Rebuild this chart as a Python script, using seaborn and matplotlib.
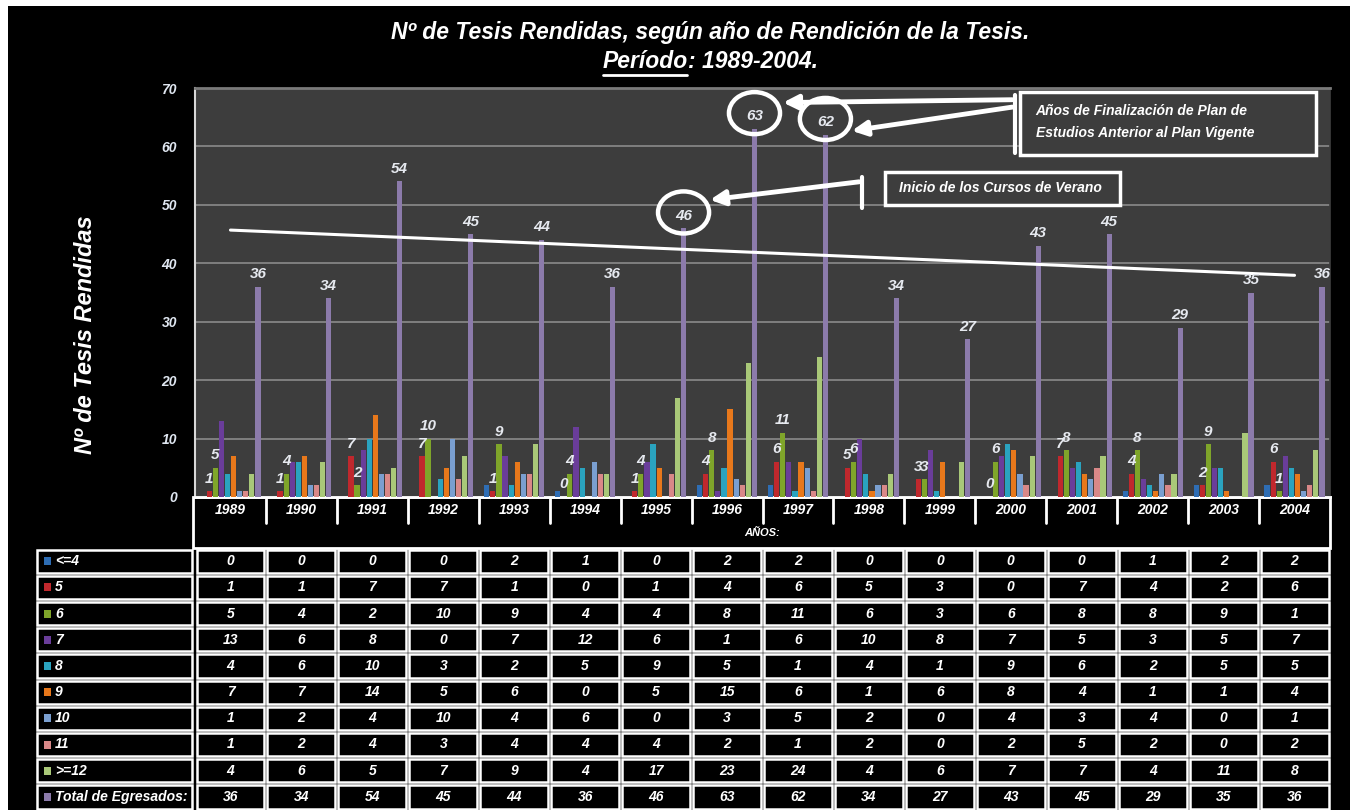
import numpy as np
import pandas as pd
import seaborn as sns
import matplotlib
matplotlib.use("Agg")
import matplotlib.pyplot as plt
from matplotlib.patches import Rectangle, Ellipse

# ---------------- data ----------------
years = ["1989", "1990", "1991", "1992", "1993", "1994", "1995", "1996",
         "1997", "1998", "1999", "2000", "2001", "2002", "2003", "2004"]
series_names = ["<=4", "5", "6", "7", "8", "9", "10", "11", ">=12", "Total de Egresados:"]
s_le4 = [0, 0, 0, 0, 2, 1, 0, 2, 2, 0, 0, 0, 0, 1, 2, 2]
s_5 = [1, 1, 7, 7, 1, 0, 1, 4, 6, 5, 3, 0, 7, 4, 2, 6]
s_6 = [5, 4, 2, 10, 9, 4, 4, 8, 11, 6, 3, 6, 8, 8, 9, 1]
s_7 = [13, 6, 8, 0, 7, 12, 6, 1, 6, 10, 8, 7, 5, 3, 5, 7]
s_8 = [4, 6, 10, 3, 2, 5, 9, 5, 1, 4, 1, 9, 6, 2, 5, 5]
s_9 = [7, 7, 14, 5, 6, 0, 5, 15, 6, 1, 6, 8, 4, 1, 1, 4]
s_10 = [1, 2, 4, 10, 4, 6, 0, 3, 5, 2, 0, 4, 3, 4, 0, 1]
s_11 = [1, 2, 4, 3, 4, 4, 4, 2, 1, 2, 0, 2, 5, 2, 0, 2]
s_ge12 = [4, 6, 5, 7, 9, 4, 17, 23, 24, 4, 6, 7, 7, 4, 11, 8]
s_total = [36, 34, 54, 45, 44, 36, 46, 63, 62, 34, 27, 43, 45, 29, 35, 36]
series_values = [s_le4, s_5, s_6, s_7, s_8, s_9, s_10, s_11, s_ge12, s_total]

colors = ["#2e6db4", "#c0282d", "#7fa52a", "#6a3d9a", "#2aa3bf",
          "#e8781b", "#7a9fd0", "#d98888", "#a9c878", "#8c7bab"]

title1 = "Nº de Tesis Rendidas, según año de Rendición de la Tesis."
title2a = "Período"
title2b = ": 1989-2004."
ylabel = "Nº de Tesis Rendidas"
xaxis_label = "AÑOS:"
note1 = "Años de Finalización de Plan de\nEstudios Anterior al Plan Vigente"
note2 = "Inicio de los Cursos de Verano"

rows = []
for name, vals in zip(series_names, series_values):
    for y, v in zip(years, vals):
        rows.append({"year": y, "series": name, "value": v})
df = pd.DataFrame(rows)

# ---------------- style ----------------
sns.set_theme(style="dark")
FONT = ["Liberation Sans Narrow", "Liberation Sans", "DejaVu Sans"]
plt.rcParams["font.family"] = FONT
plt.rcParams["font.weight"] = "bold"
plt.rcParams["font.style"] = "italic"

W, H = 1356, 810
fig = plt.figure(figsize=(W / 100, H / 100), dpi=100, facecolor="white")

# overlay axes in pixel coordinates (for background, titles, table)
ov = fig.add_axes([0, 0, 1, 1], zorder=0)
ov.set_xlim(0, W)
ov.set_ylim(H, 0)
ov.axis("off")
ov.add_patch(Rectangle((8, 6), 1342, 804, facecolor="black", edgecolor="none"))

# main chart axes
PX_L, PX_R, PX_T, PX_B = 195, 1330, 88, 497
ax = fig.add_axes([PX_L / W, (H - PX_B) / H, (PX_R - PX_L) / W, (PX_B - PX_T) / H], zorder=2)
ax.set_facecolor("#3d3d3d")

sns.barplot(data=df, x="year", y="value", hue="series", hue_order=series_names,
            order=years, palette=colors, width=0.86, gap=0.15, saturation=1,
            legend=False, ax=ax, edgecolor="none", zorder=3)

ax.set_ylim(0, 70)
ax.set_xlim(-0.5, len(years) - 0.5)
ax.set_yticks(range(0, 71, 10))
ax.yaxis.grid(True, color="#8a8a8a", lw=1.2, zorder=0)
ax.xaxis.grid(False)
ax.set_axisbelow(True)
ax.tick_params(axis="y", colors="#dfe6f0", labelsize=10, length=0, pad=13)
ax.tick_params(axis="x", length=0, labelbottom=False)
ax.set_xlabel("")
ax.set_ylabel("")
for lab in ax.get_yticklabels():
    lab.set_fontweight("bold")
    lab.set_fontstyle("italic")
ax.spines["left"].set_color("#d8d8d8")
ax.spines["left"].set_linewidth(1.5)
ax.spines["top"].set_color("#7a7a7a")
ax.spines["top"].set_linewidth(2)
ax.spines["right"].set_color("#3d3d3d")
ax.spines["bottom"].set_color("white")
ax.spines["bottom"].set_linewidth(2)

# data labels on series "5", "6" and the total
label_color = "#e6e9ef"
for idx in (1, 2, 9):
    cont = ax.containers[idx]
    ax.bar_label(cont, labels=[str(v) for v in series_values[idx]], padding=4,
                 color=label_color, fontsize=11, fontweight="bold",
                 fontstyle="italic", zorder=5)

# linear trend of total
xi = np.arange(len(years))
coef = np.polyfit(xi, s_total, 1)
ax.plot(xi, np.polyval(coef, xi), color="white", lw=2.2, zorder=4)

# annotations: circles around highlighted totals
hw = 0.86 / len(series_names)
tot_off = -0.43 + hw * 9.5
for yr in ("1995", "1996", "1997"):
    i = years.index(yr)
    ax.add_patch(Ellipse((i + tot_off, s_total[i] + 2.7), 0.72, 7.2, fill=False,
                         ec="white", lw=3.2, zorder=6))

# boxes
ax.add_patch(Rectangle((11.13, 58.5), 4.17, 10.8, facecolor="#3d3d3d",
                       edgecolor="white", lw=2.5, zorder=6))
ax.text(11.35, 64.2, note1, color="white", fontsize=10, fontweight="bold",
        fontstyle="italic", va="center", ha="left", linespacing=1.7, zorder=7)
ax.add_patch(Rectangle((9.23, 50.0), 3.31, 5.6, facecolor="#3d3d3d",
                       edgecolor="white", lw=2.5, zorder=6))
ax.text(9.42, 52.8, note2, color="white", fontsize=10, fontweight="bold",
        fontstyle="italic", va="center", ha="left", zorder=7)

# brackets + arrows
ax.plot([11.06, 11.06], [58.9, 68.8], color="white", lw=3, zorder=6)
ax.plot([8.90, 8.90], [49.5, 54.8], color="white", lw=3, zorder=6)
arrow_kw = dict(arrowstyle="-|>", color="white", lw=3.5, mutation_scale=22)
ax.annotate("", xy=(7.75, 67.5), xytext=(11.06, 68.0), arrowprops=arrow_kw, zorder=6)
ax.annotate("", xy=(8.72, 62.6), xytext=(11.06, 66.8), arrowprops=arrow_kw, zorder=6)
ax.annotate("", xy=(6.72, 50.8), xytext=(8.90, 54.0), arrowprops=arrow_kw, zorder=6)

# ---------------- titles ----------------
tkw = dict(color="white", fontsize=16.5, fontweight="bold", fontstyle="italic")
ov.text(710, 33, title1, ha="center", va="center", **tkw)
fig.canvas.draw()
r = fig.canvas.get_renderer()
ta = ov.text(0, 62, title2a, ha="left", va="center", **tkw)
tb = ov.text(0, 62, title2b, ha="left", va="center", **tkw)
wa = ta.get_window_extent(r).width
wb = tb.get_window_extent(r).width
x0 = 710 - (wa + wb) / 2
ta.set_x(x0)
tb.set_x(x0 + wa)
ov.plot([x0 + 1, x0 + wa - 1], [75, 75], color="white", lw=2)

ov.text(85, 335, ylabel, rotation=90, ha="center", va="center", color="white",
        fontsize=17, fontweight="bold", fontstyle="italic")

# ---------------- table ----------------
ncol = len(years)
cw = (PX_R - PX_L) / ncol
txt_kw = dict(color="white", fontsize=10, fontweight="bold", fontstyle="italic")

# header block with years
ov.add_patch(Rectangle((PX_L - 2, PX_B), PX_R - PX_L + 2, 51, facecolor="black",
                       edgecolor="white", lw=2, zorder=1))
for j, y in enumerate(years):
    cx = PX_L + (j + 0.5) * cw
    ov.text(cx, 510, y, ha="center", va="center", **txt_kw)
    if j > 0:
        xs = PX_L + j * cw
        ov.plot([xs, xs], [PX_B, 523], color="white", lw=2, zorder=2)
ov.text((PX_L + PX_R) / 2, 533, xaxis_label, ha="center", va="center",
        color="white", fontsize=8, fontweight="bold", fontstyle="italic")

row_top, row_h = 548, 26.2
for r_i, (name, vals) in enumerate(zip(series_names, series_values)):
    y0 = row_top + r_i * row_h
    ov.add_patch(Rectangle((37, y0 + 1.5), 155, row_h - 3, facecolor="black",
                           edgecolor="white", lw=1.8, zorder=1))
    ov.add_patch(Rectangle((44, y0 + row_h / 2 - 4), 7, 8, facecolor=colors[r_i],
                           edgecolor="none", zorder=2))
    ov.text(55, y0 + row_h / 2, name, ha="left", va="center", **txt_kw)
    for j, v in enumerate(vals):
        xc = PX_L + j * cw
        ov.add_patch(Rectangle((xc + 1.5, y0 + 1.5), cw - 3, row_h - 3,
                               facecolor="black", edgecolor="white", lw=1.8, zorder=1))
        ov.text(xc + cw / 2, y0 + row_h / 2, str(v), ha="center", va="center", **txt_kw)

fig.savefig("out.png", dpi=100, facecolor=fig.get_facecolor())
